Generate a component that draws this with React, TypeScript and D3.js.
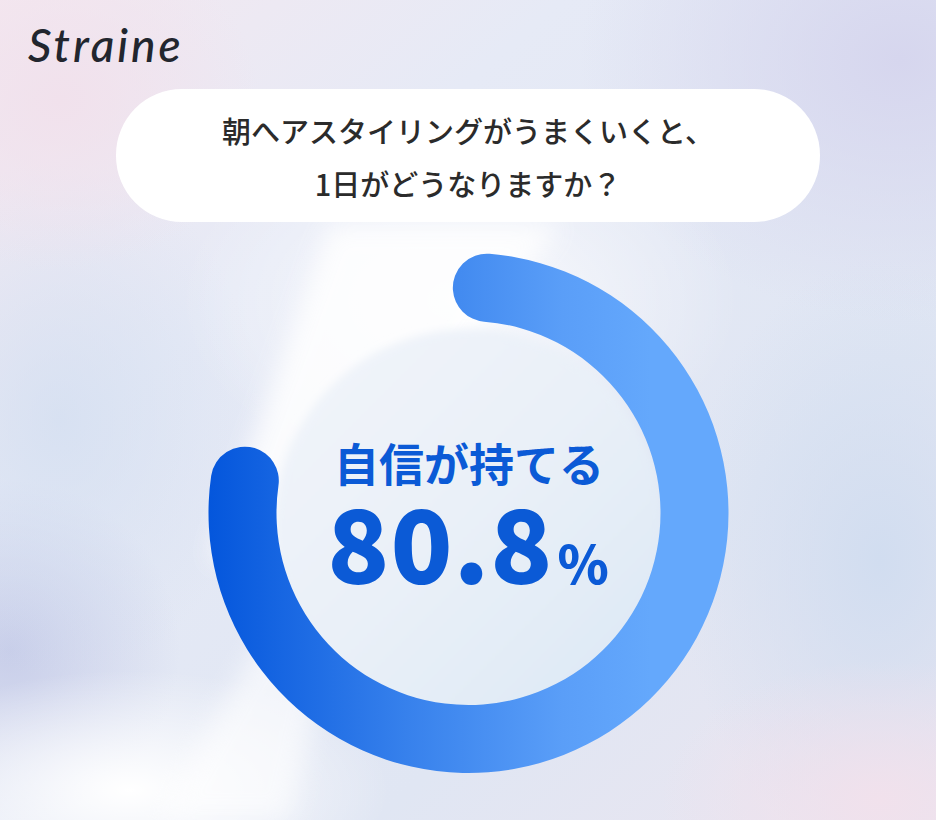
import React from "react";
import * as d3 from "d3";

const brand = "Straine";
const questionLines = ["朝へアスタイリングがうまくいくと、", "1日がどうなりますか？"];
const categories = ["自信が持てる"];
const values = [80.8];
const valueLabels = ["80.8"];
const unitLabel = "%";

const W = 936;
const H = 820;

export default function App() {
  const cx = 468.5;
  const cy = 513;
  const outerR = 260;
  const innerR = 192;
  const offset = (-4 * Math.PI) / 180;

  const angle = d3.scaleLinear().domain([0, 100]).range([0, 2 * Math.PI]);
  const arcGen = d3
    .arc<any>()
    .innerRadius(innerR)
    .outerRadius(outerR)
    .cornerRadius((outerR - innerR) / 2);

  const arcPath = arcGen({
    startAngle: angle(0) + offset,
    endAngle: angle(values[0]) + offset,
  } as any) as string;

  const jp = "'Noto Sans CJK JP', 'Noto Sans', sans-serif";

  return (
    <svg
      width={W}
      height={H}
      viewBox={`0 0 ${W} ${H}`}
      style={{ position: "absolute", left: 0, top: 0, display: "block" }}
    >
      <defs>
        <linearGradient id="bgBase" x1="0" y1="0" x2="1" y2="1">
          <stop offset="0" stopColor="#f4e8f0" />
          <stop offset="0.3" stopColor="#e6eaf6" />
          <stop offset="0.7" stopColor="#e0e6f3" />
          <stop offset="1" stopColor="#ebe5f0" />
        </linearGradient>
        <radialGradient id="gTR" cx="0.5" cy="0.5" r="0.5">
          <stop offset="0" stopColor="#d6d6ee" stopOpacity="1" />
          <stop offset="1" stopColor="#d6d6ee" stopOpacity="0" />
        </radialGradient>
        <radialGradient id="gBL" cx="0.5" cy="0.5" r="0.5">
          <stop offset="0" stopColor="#c3c9e7" stopOpacity="1" />
          <stop offset="1" stopColor="#c3c9e7" stopOpacity="0" />
        </radialGradient>
        <radialGradient id="gWhite" cx="0.5" cy="0.5" r="0.5">
          <stop offset="0" stopColor="#ffffff" stopOpacity="1" />
          <stop offset="1" stopColor="#ffffff" stopOpacity="0" />
        </radialGradient>
        <radialGradient id="gPink" cx="0.5" cy="0.5" r="0.5">
          <stop offset="0" stopColor="#f1e1ec" stopOpacity="1" />
          <stop offset="1" stopColor="#f1e1ec" stopOpacity="0" />
        </radialGradient>
        <radialGradient id="gBlueR" cx="0.5" cy="0.5" r="0.5">
          <stop offset="0" stopColor="#d1ddf0" stopOpacity="1" />
          <stop offset="1" stopColor="#d1ddf0" stopOpacity="0" />
        </radialGradient>
        <linearGradient id="inner" x1="0" y1="0" x2="1" y2="1">
          <stop offset="0" stopColor="#f2f5fa" />
          <stop offset="0.5" stopColor="#e9f0f8" />
          <stop offset="1" stopColor="#dbe7f5" />
        </linearGradient>
        <linearGradient id="ring" x1="0" y1="0" x2="0.85" y2="0">
          <stop offset="0" stopColor="#0456dc" />
          <stop offset="0.45" stopColor="#3781ec" />
          <stop offset="0.8" stopColor="#5a9ef8" />
          <stop offset="1" stopColor="#64a8fc" />
        </linearGradient>
        <filter id="blur12" x="-50%" y="-50%" width="200%" height="200%">
          <feGaussianBlur stdDeviation="12" />
        </filter>
        <filter id="blur4" x="-50%" y="-50%" width="200%" height="200%">
          <feGaussianBlur stdDeviation="4" />
        </filter>
      </defs>

      {/* background */}
      <rect x={0} y={0} width={W} height={H} fill="url(#bgBase)" />
      <ellipse cx={900} cy={60} rx={320} ry={260} fill="url(#gTR)" />
      <ellipse cx={10} cy={650} rx={170} ry={170} fill="url(#gBL)" opacity={0.85} />
      <ellipse cx={60} cy={420} rx={200} ry={260} fill="url(#gBlueR)" opacity={0.7} />
      <ellipse cx={880} cy={560} rx={200} ry={300} fill="url(#gBlueR)" />
      <ellipse cx={880} cy={800} rx={220} ry={140} fill="url(#gPink)" />
      <ellipse cx={60} cy={100} rx={200} ry={170} fill="url(#gPink)" />
      <ellipse cx={130} cy={790} rx={260} ry={120} fill="url(#gWhite)" />
      <ellipse cx={460} cy={300} rx={280} ry={180} fill="url(#gWhite)" opacity={0.8} />
      <path
        d="M330,225 L560,225 L310,560 L210,560 Z"
        fill="#ffffff"
        opacity={0.85}
        filter="url(#blur12)"
      />
      <path
        d="M180,780 L260,640 L330,640 L290,820 L160,820 Z"
        fill="#ffffff"
        opacity={0.6}
        filter="url(#blur12)"
      />
      <circle cx={cx} cy={cy + 10} r={innerR + 2} fill="url(#inner)" filter="url(#blur4)" />

      {/* logo */}
      <text
        x={28}
        y={62}
        fontFamily="Lato, 'Open Sans', sans-serif"
        fontStyle="italic"
        fontWeight={500}
        fontSize={46}
        fill="#22262e"
        letterSpacing={3}
      >
        {brand}
      </text>

      {/* question bubble */}
      <rect x={116} y={89} width={704} height={133} rx={66} fill="#ffffff" />
      {questionLines.map((l, i) => (
        <text
          key={i}
          x={468}
          y={143 + i * 53}
          textAnchor="middle"
          fontFamily={jp}
          fontWeight={500}
          fontSize={29}
          fill="#2b2b2b"
        >
          {l}
        </text>
      ))}

      {/* ring */}
      <g transform={`translate(${cx},${cy})`}>
        <path d={arcPath} fill="url(#ring)" />
      </g>

      {/* center labels */}
      <text
        x={469}
        y={482}
        textAnchor="middle"
        fontFamily={jp}
        fontWeight={700}
        fontSize={45}
        fill="#0b5ad6"
      >
        {categories[0]}
      </text>
      <text
        x={468}
        y={584}
        textAnchor="middle"
        fontFamily={jp}
        fontWeight={900}
        fill="#0b5ad6"
      >
        <tspan fontSize={102} letterSpacing={1}>{valueLabels[0]}</tspan>
        <tspan fontSize={52} dx={4}>{unitLabel}</tspan>
      </text>
    </svg>
  );
}
